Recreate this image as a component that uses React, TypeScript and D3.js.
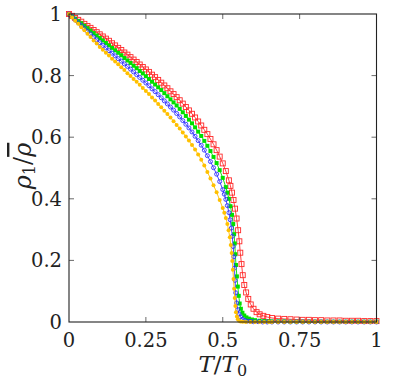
import React from 'react';
import * as d3 from 'd3';

// T/T0 grid for the smooth upper part of every curve
const tUpper = [
  0, 0.01, 0.02, 0.03, 0.04, 0.05, 0.06, 0.07, 0.08, 0.09,
  0.1, 0.11, 0.12, 0.13, 0.14, 0.15, 0.16, 0.17, 0.18, 0.19,
  0.2, 0.21, 0.22, 0.23, 0.24, 0.25, 0.26, 0.27, 0.28, 0.29,
  0.3, 0.31, 0.32, 0.33, 0.34, 0.35, 0.36, 0.37, 0.38, 0.39,
  0.4, 0.41, 0.42, 0.43, 0.44, 0.45, 0.46, 0.47, 0.48, 0.49, 0.5,
];
// shared tail grid (all curves near zero)
const tTail = [0.66, 0.68, 0.7, 0.72, 0.74, 0.76, 0.78, 0.8, 0.82, 0.84, 0.86, 0.88, 0.9, 0.92, 0.94, 0.96, 0.98, 1.0];

// red, open squares
const redUpper = [
  1.0, 0.994, 0.987, 0.981, 0.975, 0.968, 0.961, 0.955, 0.948, 0.941,
  0.934, 0.927, 0.92, 0.913, 0.905, 0.898, 0.89, 0.883, 0.875, 0.868,
  0.86, 0.852, 0.844, 0.836, 0.828, 0.82, 0.812, 0.803, 0.795, 0.786,
  0.777, 0.768, 0.759, 0.749, 0.74, 0.73, 0.72, 0.709, 0.698, 0.687,
  0.676, 0.664, 0.651, 0.638, 0.624, 0.61, 0.594, 0.577, 0.558, 0.537, 0.515,
];
const redLowT = [0.51, 0.52, 0.525, 0.53, 0.535, 0.54, 0.545, 0.55, 0.554, 0.557, 0.561, 0.565, 0.57, 0.576, 0.583, 0.591, 0.6, 0.61, 0.62, 0.632, 0.645];
const redLow = [0.49, 0.46, 0.442, 0.42, 0.396, 0.368, 0.336, 0.298, 0.262, 0.225, 0.188, 0.152, 0.12, 0.096, 0.075, 0.057, 0.043, 0.032, 0.025, 0.02, 0.016];
const redTail = [0.013, 0.011, 0.01, 0.009, 0.008, 0.007, 0.007, 0.006, 0.006, 0.005, 0.005, 0.005, 0.004, 0.004, 0.004, 0.003, 0.003, 0.003];

// green, filled squares
const greenUpper = [
  1.0, 0.992, 0.985, 0.977, 0.97, 0.962, 0.954, 0.946, 0.938, 0.93,
  0.922, 0.914, 0.906, 0.898, 0.89, 0.882, 0.874, 0.866, 0.857, 0.849,
  0.841, 0.832, 0.824, 0.815, 0.807, 0.798, 0.789, 0.78, 0.771, 0.762,
  0.753, 0.743, 0.733, 0.723, 0.713, 0.703, 0.692, 0.681, 0.669, 0.657,
  0.645, 0.632, 0.618, 0.604, 0.588, 0.572, 0.555, 0.536, 0.516, 0.493, 0.468,
];
const greenLowT = [0.51, 0.515, 0.52, 0.525, 0.53, 0.534, 0.537, 0.539, 0.541, 0.543, 0.546, 0.549, 0.552, 0.555, 0.559, 0.564, 0.57, 0.577, 0.585, 0.595, 0.605, 0.62, 0.635, 0.65];
const greenLow = [0.438, 0.42, 0.4, 0.376, 0.348, 0.318, 0.285, 0.255, 0.22, 0.185, 0.148, 0.115, 0.085, 0.06, 0.043, 0.03, 0.021, 0.015, 0.011, 0.008, 0.006, 0.004, 0.003, 0.002];
const greenTail = [0.002, 0.002, 0.002, 0.001, 0.001, 0.001, 0.001, 0.001, 0.001, 0.001, 0.001, 0.001, 0.001, 0.001, 0.001, 0.001, 0.001, 0.001];

// blue, open circles
const blueUpper = [
  1.0, 0.991, 0.981, 0.972, 0.963, 0.954, 0.944, 0.935, 0.925, 0.916,
  0.907, 0.898, 0.89, 0.881, 0.873, 0.864, 0.855, 0.847, 0.838, 0.83,
  0.821, 0.812, 0.803, 0.794, 0.785, 0.776, 0.767, 0.757, 0.748, 0.738,
  0.728, 0.718, 0.708, 0.698, 0.688, 0.677, 0.666, 0.654, 0.642, 0.63,
  0.617, 0.603, 0.589, 0.574, 0.558, 0.54, 0.521, 0.501, 0.48, 0.456, 0.43,
];
const blueLowT = [0.505, 0.51, 0.515, 0.52, 0.524, 0.528, 0.531, 0.534, 0.536, 0.538, 0.54, 0.542, 0.545, 0.549, 0.553, 0.558, 0.564, 0.571, 0.58, 0.59, 0.6, 0.615, 0.63, 0.645];
const blueLow = [0.415, 0.398, 0.378, 0.355, 0.332, 0.305, 0.278, 0.245, 0.212, 0.175, 0.135, 0.095, 0.062, 0.04, 0.026, 0.016, 0.009, 0.005, 0.003, 0.002, 0.001, 0.001, 0, 0];
const blueTail = [0, 0, 0, 0, 0, 0, 0, 0, 0, 0, 0, 0, 0, 0, 0, 0, 0, 0];

// yellow, filled circles
const yellowUpper = [
  1.0, 0.989, 0.978, 0.968, 0.957, 0.947, 0.936, 0.925, 0.914, 0.904,
  0.893, 0.884, 0.874, 0.865, 0.855, 0.846, 0.837, 0.827, 0.818, 0.808,
  0.799, 0.789, 0.78, 0.77, 0.76, 0.75, 0.74, 0.729, 0.719, 0.708,
  0.697, 0.686, 0.675, 0.664, 0.652, 0.64, 0.628, 0.615, 0.602, 0.589,
  0.575, 0.56, 0.544, 0.527, 0.508, 0.487, 0.466, 0.444, 0.421, 0.396, 0.37,
];
const yellowLowT = [0.505, 0.51, 0.515, 0.519, 0.523, 0.526, 0.529, 0.531, 0.533, 0.535, 0.537, 0.539, 0.541, 0.543, 0.546, 0.549, 0.553, 0.558, 0.565, 0.575, 0.59, 0.605, 0.62, 0.635, 0.65];
const yellowLow = [0.355, 0.338, 0.318, 0.298, 0.275, 0.25, 0.224, 0.198, 0.17, 0.14, 0.108, 0.078, 0.052, 0.032, 0.018, 0.009, 0.004, 0.002, 0.001, 0, 0, 0, 0, 0, 0];
const yellowTail = [0, 0, 0, 0, 0, 0, 0, 0, 0, 0, 0, 0, 0, 0, 0, 0, 0, 0];

const xTicks = [0, 0.25, 0.5, 0.75, 1];
const xTickLabels = ['0', '0.25', '0.5', '0.75', '1'];
const yTicks = [0, 0.2, 0.4, 0.6, 0.8, 1];
const yTickLabels = ['0', '0.2', '0.4', '0.6', '0.8', '1'];

type Pt = [number, number];
const build = (lowT: number[], upper: number[], low: number[], tail: number[]): Pt[] => [
  ...tUpper.map((t, i) => [t, upper[i]] as Pt),
  ...lowT.map((t, i) => [t, low[i]] as Pt),
  ...tTail.map((t, i) => [t, tail[i]] as Pt),
];

const series = [
  { name: 'red', color: '#ff2a2a', marker: 'openSquare', pts: build(redLowT, redUpper, redLow, redTail) },
  { name: 'green', color: '#00e000', marker: 'square', pts: build(greenLowT, greenUpper, greenLow, greenTail) },
  { name: 'blue', color: '#3030ff', marker: 'openCircle', pts: build(blueLowT, blueUpper, blueLow, blueTail) },
  { name: 'yellow', color: '#ffc000', marker: 'circle', pts: build(yellowLowT, yellowUpper, yellowLow, yellowTail) },
];

const W = 396;
const H = 382;
const margin = { top: 14, right: 19.5, bottom: 60, left: 69 };
const textStyle = { fontFamily: "'DejaVu Serif'" };

export default function App() {
  const innerW = W - margin.left - margin.right;
  const innerH = H - margin.top - margin.bottom;
  const x = d3.scaleLinear().domain([0, 1]).range([0, innerW]);
  const y = d3.scaleLinear().domain([0, 1]).range([innerH, 0]);
  const line = d3.line<Pt>().x(d => x(d[0])).y(d => y(d[1]));

  const marker = (m: string, color: string, cx: number, cy: number, k: number) => {
    if (m === 'openSquare')
      return <rect key={k} x={cx - 2.5} y={cy - 2.5} width={5} height={5} fill="none" stroke={color} strokeWidth={0.9} />;
    if (m === 'square')
      return <rect key={k} x={cx - 2} y={cy - 2} width={4} height={4} fill={color} />;
    if (m === 'openCircle')
      return <circle key={k} cx={cx} cy={cy} r={2} fill="none" stroke={color} strokeWidth={0.9} />;
    return <circle key={k} cx={cx} cy={cy} r={2} fill={color} />;
  };

  return (
    <svg width={W} height={H} style={{ position: 'absolute', left: 0, top: 0, background: '#fff' }}>
      <g transform={`translate(${margin.left},${margin.top})`}>
        {series.map(s => (
          <g key={s.name}>
            <path d={line(s.pts) || ''} fill="none" stroke={s.color} strokeWidth={0.9} />
            {s.pts.map((p, i) => marker(s.marker, s.color, x(p[0]), y(p[1]), i))}
          </g>
        ))}

        {/* ticks, inward on all four sides */}
        {xTicks.slice(1, -1).map(t => (
          <g key={'xt' + t} stroke="#444" strokeWidth={0.8}>
            <line x1={x(t)} x2={x(t)} y1={innerH} y2={innerH - 5} />
            <line x1={x(t)} x2={x(t)} y1={0} y2={5} />
          </g>
        ))}
        {yTicks.slice(1, -1).map(t => (
          <g key={'yt' + t} stroke="#444" strokeWidth={0.8}>
            <line x1={0} x2={5} y1={y(t)} y2={y(t)} />
            <line x1={innerW} x2={innerW - 5} y1={y(t)} y2={y(t)} />
          </g>
        ))}
        <rect x={0} y={0} width={innerW} height={innerH} fill="none" stroke="#222" strokeWidth={1.1} />

        {xTicks.map((t, i) => (
          <text key={'xl' + t} x={x(t)} y={innerH + 25} textAnchor="middle" style={textStyle} fontSize={19.5} fill="#222">
            {xTickLabels[i]}
          </text>
        ))}
        {yTicks.map((t, i) => (
          <text key={'yl' + t} x={-7} y={y(t) + 7} textAnchor="end" style={textStyle} fontSize={19.5} fill="#222">
            {yTickLabels[i]}
          </text>
        ))}

        <text x={innerW / 2} y={innerH + 50} textAnchor="middle" style={textStyle} fontSize={23} fill="#222">
          <tspan fontStyle="italic">T</tspan>
          <tspan>/</tspan>
          <tspan fontStyle="italic">T</tspan>
          <tspan fontSize={16} dy={4}>0</tspan>
        </text>
        <text transform={`translate(-38,${innerH / 2 - 2}) rotate(-90)`} textAnchor="middle" style={textStyle} fontSize={24} fill="#222">
          <tspan fontStyle="italic">ρ</tspan>
          <tspan fontSize={16} dy={4}>1</tspan>
          <tspan dy={-4}>/</tspan>
          <tspan fontStyle="italic" textDecoration="overline">ρ</tspan>
        </text>
      </g>
    </svg>
  );
}
